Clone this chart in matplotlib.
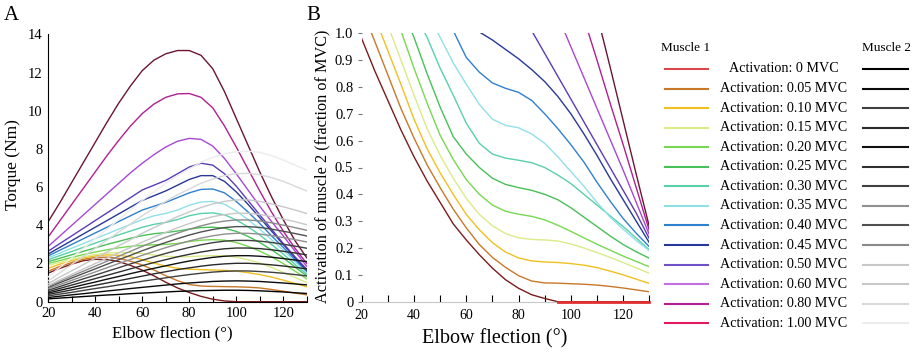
import numpy as np
import matplotlib
matplotlib.use("Agg")
import matplotlib.pyplot as plt
from matplotlib.lines import Line2D

plt.rcParams['font.family'] = ['Liberation Serif', 'DejaVu Serif']

# ---------------------------------------------------------------- data
angles = list(range(20, 135, 5))          # elbow flection (deg)

activation_labels = ["0", "0.05", "0.10", "0.15", "0.20", "0.25", "0.30",
                     "0.35", "0.40", "0.45", "0.50", "0.60", "0.80", "1.00"]

# Muscle 1 torque (Nm) per activation level
m1_000 = [1.5, 1.75, 1.97, 2.15, 2.22, 2.2, 2.1, 1.9, 1.65, 1.35, 1.02, 0.72, 0.48, 0.28, 0.13, 0.04, 0, 0, 0, 0, 0, 0, 0]
m1_005 = [1.6, 1.85, 2.05, 2.22, 2.32, 2.33, 2.27, 2.12, 1.92, 1.66, 1.36, 1.1, 0.9, 0.82, 0.8, 0.79, 0.78, 0.76, 0.72, 0.64, 0.55, 0.45, 0.36]
m1_010 = [1.75, 1.97, 2.15, 2.3, 2.4, 2.45, 2.43, 2.35, 2.2, 2.02, 1.86, 1.75, 1.7, 1.68, 1.66, 1.64, 1.6, 1.52, 1.42, 1.29, 1.13, 0.96, 0.78]
m1_015 = [1.9, 2.07, 2.22, 2.36, 2.47, 2.54, 2.58, 2.57, 2.52, 2.44, 2.38, 2.35, 2.36, 2.39, 2.41, 2.4, 2.33, 2.2, 2.02, 1.8, 1.54, 1.27, 1.0]
m1_020 = [2.0, 2.16, 2.32, 2.47, 2.6, 2.72, 2.82, 2.9, 2.95, 2.98, 3.0, 3.05, 3.15, 3.22, 3.25, 3.22, 3.1, 2.9, 2.65, 2.35, 2.0, 1.6, 1.2]
m1_025 = [2.1, 2.28, 2.46, 2.64, 2.82, 3.0, 3.16, 3.32, 3.46, 3.56, 3.62, 3.7, 3.8, 3.88, 3.9, 3.85, 3.68, 3.42, 3.1, 2.72, 2.3, 1.82, 1.35]
m1_030 = [2.2, 2.42, 2.63, 2.85, 3.07, 3.28, 3.5, 3.7, 3.9, 4.05, 4.15, 4.3, 4.5, 4.62, 4.65, 4.55, 4.28, 3.92, 3.5, 3.0, 2.5, 1.95, 1.45]
m1_035 = [2.3, 2.55, 2.8, 3.05, 3.3, 3.55, 3.8, 4.05, 4.3, 4.5, 4.62, 4.8, 5.05, 5.22, 5.25, 5.1, 4.75, 4.3, 3.8, 3.25, 2.7, 2.1, 1.55]
m1_040 = [2.4, 2.7, 3.0, 3.3, 3.6, 3.9, 4.2, 4.5, 4.8, 5.0, 5.2, 5.45, 5.7, 5.88, 5.9, 5.7, 5.25, 4.7, 4.1, 3.45, 2.85, 2.2, 1.6]
m1_045 = [2.5, 2.85, 3.2, 3.55, 3.9, 4.25, 4.6, 4.95, 5.3, 5.55, 5.8, 6.1, 6.4, 6.6, 6.6, 6.3, 5.75, 5.1, 4.4, 3.7, 3.0, 2.3, 1.65]
m1_050 = [2.65, 3.05, 3.45, 3.85, 4.25, 4.65, 5.05, 5.45, 5.85, 6.1, 6.35, 6.7, 7.05, 7.25, 7.15, 6.7, 6.05, 5.3, 4.55, 3.8, 3.05, 2.35, 1.7]
m1_060 = [2.9, 3.45, 4.0, 4.55, 5.1, 5.65, 6.2, 6.75, 7.25, 7.7, 8.1, 8.4, 8.55, 8.5, 8.15, 7.5, 6.7, 5.85, 5.0, 4.2, 3.45, 2.65, 1.85]
m1_080 = [3.4, 4.25, 5.1, 5.95, 6.8, 7.65, 8.45, 9.2, 9.85, 10.35, 10.7, 10.88, 10.9, 10.7, 10.15, 9.2, 8.1, 6.95, 5.8, 4.7, 3.7, 2.8, 2.0]
m1_100 = [4.2, 5.2, 6.25, 7.3, 8.35, 9.4, 10.4, 11.3, 12.1, 12.65, 12.98, 13.15, 13.15, 12.9, 12.2, 11.0, 9.6, 8.2, 6.8, 5.5, 4.3, 3.2, 2.3]

# Muscle 2 torque (Nm) per activation level
m2_000 = [0.15, 0.19, 0.23, 0.27, 0.31, 0.35, 0.38, 0.42, 0.45, 0.48, 0.51, 0.54, 0.56, 0.58, 0.59, 0.6, 0.6, 0.59, 0.57, 0.54, 0.51, 0.47, 0.43]
m2_005 = [0.22, 0.29, 0.36, 0.42, 0.49, 0.56, 0.62, 0.69, 0.75, 0.81, 0.87, 0.93, 0.98, 1.02, 1.06, 1.08, 1.09, 1.08, 1.06, 1.02, 0.98, 0.93, 0.88]
m2_010 = [0.3, 0.4, 0.49, 0.59, 0.69, 0.78, 0.88, 0.97, 1.07, 1.16, 1.25, 1.34, 1.42, 1.49, 1.55, 1.59, 1.61, 1.61, 1.58, 1.54, 1.49, 1.42, 1.35]
m2_015 = [0.38, 0.5, 0.62, 0.74, 0.86, 0.98, 1.1, 1.22, 1.34, 1.46, 1.57, 1.68, 1.77, 1.86, 1.93, 1.98, 2.01, 2.01, 1.98, 1.93, 1.87, 1.8, 1.72]
m2_020 = [0.45, 0.6, 0.74, 0.89, 1.03, 1.18, 1.32, 1.47, 1.61, 1.75, 1.88, 2.01, 2.13, 2.23, 2.32, 2.38, 2.41, 2.41, 2.38, 2.33, 2.26, 2.18, 2.1]
m2_025 = [0.52, 0.7, 0.87, 1.04, 1.21, 1.38, 1.55, 1.72, 1.89, 2.05, 2.2, 2.35, 2.48, 2.6, 2.7, 2.77, 2.81, 2.81, 2.78, 2.72, 2.64, 2.55, 2.45]
m2_030 = [0.6, 0.8, 1.0, 1.2, 1.39, 1.59, 1.78, 1.98, 2.17, 2.35, 2.53, 2.69, 2.84, 2.98, 3.09, 3.17, 3.21, 3.21, 3.17, 3.1, 3.01, 2.91, 2.8]
m2_035 = [0.68, 0.9, 1.12, 1.34, 1.56, 1.78, 2.0, 2.21, 2.43, 2.63, 2.83, 3.01, 3.18, 3.33, 3.45, 3.54, 3.58, 3.58, 3.54, 3.46, 3.36, 3.25, 3.13]
m2_040 = [0.75, 1.0, 1.24, 1.48, 1.72, 1.96, 2.2, 2.43, 2.67, 2.89, 3.1, 3.3, 3.49, 3.65, 3.78, 3.88, 3.93, 3.93, 3.89, 3.8, 3.69, 3.57, 3.44]
m2_045 = [0.8, 1.07, 1.34, 1.6, 1.86, 2.12, 2.38, 2.64, 2.9, 3.14, 3.37, 3.59, 3.79, 3.97, 4.12, 4.22, 4.28, 4.28, 4.23, 4.13, 4.01, 3.88, 3.74]
m2_050 = [0.85, 1.15, 1.43, 1.72, 2.0, 2.28, 2.56, 2.84, 3.12, 3.38, 3.63, 3.87, 4.09, 4.29, 4.45, 4.56, 4.63, 4.63, 4.57, 4.46, 4.33, 4.19, 4.03]
m2_060 = [0.95, 1.3, 1.62, 1.95, 2.28, 2.6, 2.93, 3.25, 3.58, 3.88, 4.17, 4.45, 4.7, 4.93, 5.12, 5.25, 5.33, 5.33, 5.25, 5.12, 4.97, 4.8, 4.62]
m2_080 = [1.1, 1.52, 1.95, 2.38, 2.8, 3.22, 3.65, 4.07, 4.5, 4.88, 5.25, 5.6, 5.9, 6.2, 6.42, 6.6, 6.7, 6.72, 6.65, 6.5, 6.3, 6.05, 5.8]
m2_100 = [1.3, 1.8, 2.3, 2.8, 3.3, 3.8, 4.3, 4.8, 5.3, 5.75, 6.2, 6.6, 6.95, 7.3, 7.55, 7.75, 7.85, 7.88, 7.82, 7.65, 7.42, 7.15, 6.9]

# Activation of muscle 2 needed for each muscle-1 activation (None = off scale)
b_000 = [0.98, 0.86, 0.75, 0.64, 0.54, 0.45, 0.37, 0.29, 0.23, 0.175, 0.125, 0.082, 0.05, 0.026, 0.012, 0, 0, 0, 0, 0, 0, 0, 0]
b_005 = [1.09, 0.97, 0.845, 0.72, 0.61, 0.51, 0.425, 0.345, 0.275, 0.213, 0.165, 0.128, 0.097, 0.077, 0.07, 0.069, 0.067, 0.065, 0.062, 0.057, 0.051, 0.044, 0.037]
b_010 = [1.2, 1.06, 0.935, 0.81, 0.68, 0.57, 0.48, 0.40, 0.325, 0.268, 0.22, 0.185, 0.163, 0.152, 0.148, 0.146, 0.142, 0.136, 0.127, 0.114, 0.10, 0.084, 0.068]
b_015 = [1.3, 1.15, 1.03, 0.90, 0.77, 0.645, 0.545, 0.46, 0.385, 0.325, 0.283, 0.254, 0.238, 0.232, 0.23, 0.226, 0.215, 0.2, 0.183, 0.165, 0.146, 0.126, 0.106]
b_020 = [1.4, 1.25, 1.12, 1.01, 0.87, 0.74, 0.62, 0.53, 0.455, 0.40, 0.36, 0.337, 0.326, 0.318, 0.305, 0.285, 0.262, 0.238, 0.214, 0.192, 0.17, 0.15, 0.13]
b_025 = [1.5, 1.35, 1.22, 1.1, 0.985, 0.85, 0.725, 0.615, 0.55, 0.50, 0.46, 0.437, 0.425, 0.415, 0.40, 0.38, 0.35, 0.315, 0.28, 0.245, 0.213, 0.186, 0.162]
b_030 = [1.6, 1.45, 1.32, 1.2, 1.08, 0.985, 0.87, 0.77, 0.665, 0.59, 0.55, 0.535, 0.527, 0.518, 0.50, 0.472, 0.44, 0.40, 0.36, 0.32, 0.28, 0.237, 0.193]
b_035 = [None, None, None, None, None, 1.08, 0.985, 0.89, 0.81, 0.735, 0.68, 0.657, 0.648, 0.625, 0.59, 0.54, 0.485, 0.43, 0.37, 0.315, 0.27, 0.228, 0.19]
b_040 = [None, None, None, None, None, None, 1.12, 1.01, 0.91, 0.855, 0.815, 0.795, 0.78, 0.75, 0.70, 0.645, 0.585, 0.52, 0.445, 0.375, 0.31, 0.255, 0.205]
b_045 = [None, None, None, None, None, None, None, None, 1.04, 1.005, 0.975, 0.94, 0.905, 0.865, 0.82, 0.765, 0.70, 0.625, 0.545, 0.46, 0.38, 0.30, 0.22]
b_050 = [None, None, None, None, None, None, None, None, None, None, None, None, 1.1, 1.01, 0.925, 0.84, 0.755, 0.67, 0.585, 0.5, 0.415, 0.33, 0.235]
b_060 = [None, None, None, None, None, None, None, None, None, None, None, None, None, None, None, 1.065, 0.95, 0.835, 0.72, 0.605, 0.49, 0.37, 0.25]
b_080 = [None, None, None, None, None, None, None, None, None, None, None, None, None, None, None, None, None, 1.055, 0.90, 0.74, 0.585, 0.425, 0.265]
b_100 = [None, None, None, None, None, None, None, None, None, None, None, None, None, None, None, None, None, None, 1.07, 0.875, 0.675, 0.475, 0.28]

muscle1 = [m1_000, m1_005, m1_010, m1_015, m1_020, m1_025, m1_030,
           m1_035, m1_040, m1_045, m1_050, m1_060, m1_080, m1_100]
muscle2 = [m2_000, m2_005, m2_010, m2_015, m2_020, m2_025, m2_030,
           m2_035, m2_040, m2_045, m2_050, m2_060, m2_080, m2_100]
balance = [b_000, b_005, b_010, b_015, b_020, b_025, b_030,
           b_035, b_040, b_045, b_050, b_060, b_080, b_100]

# ---------------------------------------------------------------- styles
legend_colors = ["#d84a4a", "#c87828", "#f0c020", "#d8ec88", "#78d850", "#48c058",
                 "#58d0a8", "#90e0e8", "#2f80d0", "#283898", "#7050c8", "#c070e0",
                 "#b02090", "#e01860"]
curve_colors = list(legend_colors)
curve_colors[0] = "#7a1c1c"
curve_colors[10] = "#5a3cb8"
curve_colors[11] = "#a848d4"
curve_colors[-1] = "#6b1535"
grays = ["#000000", "#0a0a0a", "#404040", "#2a2a2a", "#101010", "#303030", "#404040",
         "#909090", "#505050", "#8a8a8a", "#c8c8c8", "#c8c8c8", "#d8d8d8", "#ececec"]

W, H = 916, 352
fig = plt.figure(figsize=(W / 100, H / 100), dpi=100)


def fx(px):
    return px / W


def fy(py):
    return 1 - py / H


x = np.array(angles, dtype=float)

# ---------------------------------------------------------------- panel A
axA = fig.add_axes([fx(48.3), fy(301.7), fx(306.7) - fx(48.3), fy(34.3) - fy(301.7)])
for vals, col in zip(muscle1, curve_colors):
    axA.plot(x, vals, color=col, lw=1.0, zorder=2)
for vals, col in zip(muscle2, grays):
    axA.plot(x, vals, color=col, lw=1.0, zorder=3)
axA.set_xlim(20, 130)
axA.set_ylim(0, 14)
axA.spines['top'].set_visible(False)
axA.spines['right'].set_visible(False)
axA.set_xticks(range(20, 131, 10))
axA.set_xticklabels([str(t) if t % 20 == 0 and t <= 120 else "" for t in range(20, 131, 10)])
axA.set_yticks(range(0, 15, 2))
axA.tick_params(axis='x', direction='in', length=4, labelsize=10.5, pad=4)
axA.tick_params(axis='y', direction='in', length=0, labelsize=10.5, pad=4)

fig.text(fx(11), fy(15), "A", fontsize=15, ha='center', va='center')
fig.text(fx(172), fy(333), "Elbow flection (°)", fontsize=12, ha='center', va='center')
fig.text(fx(13), fy(165), "Torque (Nm)", fontsize=12.5, ha='center', va='center', rotation=90)

# ---------------------------------------------------------------- panel B
axB = fig.add_axes([fx(361.7), fy(301.7), fx(649.3) - fx(361.7), fy(33.3) - fy(301.7)])
for vals, col in zip(balance, curve_colors):
    arr = np.array([np.nan if v is None else v for v in vals], dtype=float)
    axB.plot(x, arr, color=col, lw=1.0)
zero_part = np.array(b_000, dtype=float)
zero_part = np.where(zero_part <= 0, zero_part, np.nan)
axB.plot(x, zero_part, color="#e03030", lw=2.0, clip_on=False, zorder=4)
axB.set_xlim(20, 130)
axB.set_ylim(0, 1)
for side in ('top', 'right', 'left'):
    axB.spines[side].set_visible(False)
axB.spines['bottom'].set_color("#c8c8c8")
axB.set_xticks(range(20, 131, 10))
axB.set_xticklabels([str(t) if t % 20 == 0 and t <= 120 else "" for t in range(20, 131, 10)])
yt = [i / 10 for i in range(11)]
axB.set_yticks(yt)
axB.set_yticklabels(["0" if v == 0 else f"{v:.1f}" for v in yt])
axB.tick_params(axis='x', direction='in', length=5, labelsize=10, pad=5)
axB.tick_params(axis='y', direction='out', length=3, color="#777777", labelsize=10.5, pad=3)

fig.text(fx(313), fy(15), "B", fontsize=15, ha='center', va='center')
fig.text(fx(495), fy(339), "Elbow flection (°)", fontsize=14.5, ha='center', va='center')
fig.text(fx(322), fy(166), "Activation of muscle 2 (fraction of MVC)", fontsize=11.7,
         ha='center', va='center', rotation=90)

# ---------------------------------------------------------------- legend
fig.text(fx(686), fy(48), "Muscle 1", fontsize=9.5, ha='center', va='center')
fig.text(fx(887), fy(48), "Muscle 2", fontsize=9.5, ha='center', va='center')
row0, step = 69.0, 19.56
for i, lab in enumerate(activation_labels):
    yy = fy(row0 + i * step)
    fig.add_artist(Line2D([fx(665), fx(708)], [yy, yy], color=legend_colors[i], lw=1.5,
                          transform=fig.transFigure))
    fig.add_artist(Line2D([fx(863), fx(908)], [yy, yy], color=grays[i], lw=1.5,
                          transform=fig.transFigure))
    fig.text(fx(784), yy, f"Activation: {lab} MVC", fontsize=10.2, ha='center', va='center')

fig.savefig("out.png", dpi=100)
